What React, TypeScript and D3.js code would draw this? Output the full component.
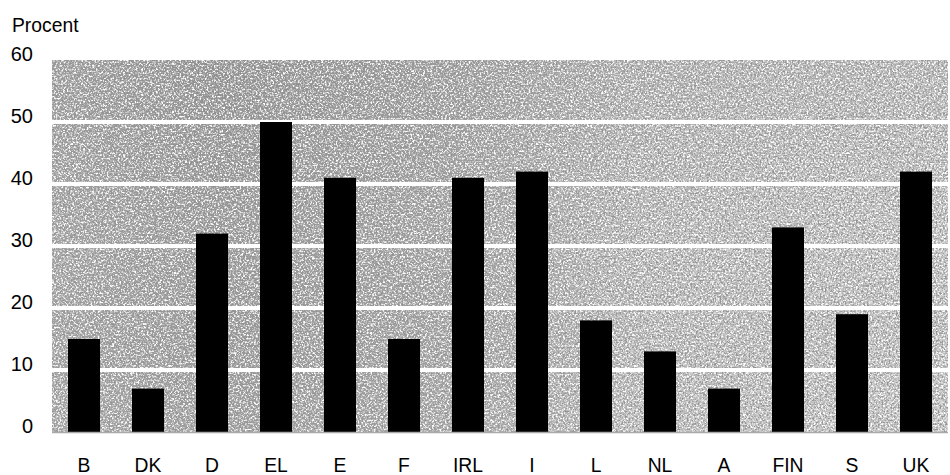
import React from "react";
import * as d3 from "d3";

// Share of population, per country (%)
const countries = ["B", "DK", "D", "EL", "E", "F", "IRL", "I", "L", "NL", "A", "FIN", "S", "UK"];
const values = [15, 7, 32, 50, 41, 15, 41, 42, 18, 13, 7, 33, 19, 42];
const yTicks = [0, 10, 20, 30, 40, 50, 60];
const yTitle = "Procent";

const W = 950;
const H = 475;
const margin = { left: 52, right: 2, top: 60, bottom: 43 };

export default function App() {
  const x = d3
    .scaleBand<string>()
    .domain(countries)
    .range([margin.left, W - margin.right])
    .paddingInner(0.5)
    .paddingOuter(0.25);
  const y = d3
    .scaleLinear()
    .domain([0, 60])
    .range([H - margin.bottom, margin.top]);

  const plotW = W - margin.left - margin.right;
  const plotH = y(0) - y(60);
  const font = "'Liberation Sans', Arial, Helvetica, sans-serif";

  return (
    <svg
      width={W}
      height={H}
      style={{ position: "absolute", left: 0, top: 0, background: "#fff" }}
    >
      <defs>
        <linearGradient id="bgShade" x1="0" x2="1" y1="0" y2="0">
          <stop offset="0" stopColor="#a4a4a4" />
          <stop offset="0.18" stopColor="#969696" />
          <stop offset="0.45" stopColor="#a2a2a2" />
          <stop offset="0.65" stopColor="#bababa" />
          <stop offset="1" stopColor="#c2c2c2" />
        </linearGradient>
        <linearGradient id="vShade" x1="0" x2="0" y1="0" y2="1">
          <stop offset="0" stopColor="#000" stopOpacity="0.06" />
          <stop offset="0.5" stopColor="#000" stopOpacity="0" />
          <stop offset="1" stopColor="#fff" stopOpacity="0.06" />
        </linearGradient>
        <filter id="grain" x="0" y="0" width="100%" height="100%">
          <feTurbulence type="fractalNoise" baseFrequency="0.55" numOctaves="2" seed="7" result="noise" />
          <feColorMatrix
            in="noise"
            type="matrix"
            values="0 0 0 0 1  0 0 0 0 1  0 0 0 0 1  4 0 0 0 -1.75"
            result="light"
          />
          <feColorMatrix
            in="noise"
            type="matrix"
            values="0 0 0 0 0.3  0 0 0 0 0.3  0 0 0 0 0.3  0 4 0 0 -1.85"
            result="dark"
          />
          <feMerge result="specks">
            <feMergeNode in="light" />
            <feMergeNode in="dark" />
          </feMerge>
          <feComposite in="specks" in2="SourceGraphic" operator="in" />
        </filter>
      </defs>

      {/* shaded plot background */}
      <rect x={margin.left} y={y(60)} width={plotW} height={plotH} fill="url(#bgShade)" />
      <rect x={margin.left} y={y(60)} width={plotW} height={plotH} fill="url(#vShade)" />
      <rect
        x={margin.left}
        y={y(60)}
        width={plotW}
        height={plotH}
        fill="#000"
        filter="url(#grain)"
      />

      {/* white gridlines */}
      {yTicks
        .filter((t) => t > 0 && t < 60)
        .map((t) => (
          <line
            key={t}
            x1={margin.left}
            x2={W - margin.right}
            y1={y(t)}
            y2={y(t)}
            stroke="#fff"
            strokeWidth={4}
          />
        ))}

      {/* bars */}
      {countries.map((c, i) => (
        <rect
          key={c}
          x={x(c)}
          y={y(values[i])}
          width={x.bandwidth()}
          height={y(0) - y(values[i])}
          fill="#000"
        />
      ))}

      {/* baseline */}
      <line
        x1={margin.left}
        x2={W - margin.right}
        y1={y(0) + 0.5}
        y2={y(0) + 0.5}
        stroke="#aaa"
        strokeWidth={1.5}
      />

      {/* y tick labels */}
      {yTicks.map((t) => (
        <text
          key={t}
          x={33}
          y={y(t) + 1}
          textAnchor="end"
          fontFamily={font}
          fontSize={20}
          fill="#000"
        >
          {t}
        </text>
      ))}

      {/* axis title */}
      <text
        x={12}
        y={32}
        fontFamily={font}
        fontSize={21}
        fill="#000"
        transform="translate(12,0) scale(0.92,1) translate(-12,0)"
      >
        {yTitle}
      </text>

      {/* category labels */}
      {countries.map((c) => {
        const cx = (x(c) ?? 0) + x.bandwidth() / 2;
        return (
          <text
            key={c}
            x={cx}
            y={472}
            textAnchor="middle"
            fontFamily={font}
            fontSize={21}
            fill="#000"
            transform={`translate(${cx},0) scale(0.92,1) translate(${-cx},0)`}
          >
            {c}
          </text>
        );
      })}
    </svg>
  );
}
